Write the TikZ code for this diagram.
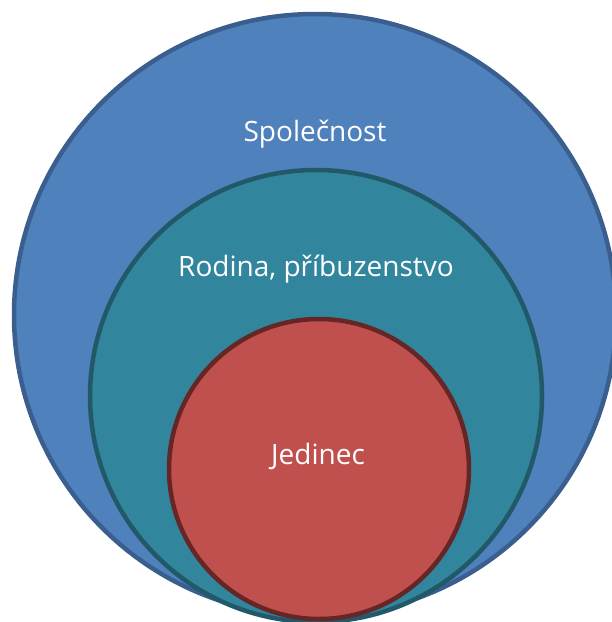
\documentclass[tikz,border=0pt]{standalone}
\usepackage{fontspec}
\setmainfont{Open Sans}
\definecolor{societyfill}{HTML}{4F81BD}
\definecolor{societyline}{HTML}{3A5F8E}
\definecolor{familyfill}{HTML}{31859C}
\definecolor{familyline}{HTML}{215968}
\definecolor{personfill}{HTML}{C0504D}
\definecolor{personline}{HTML}{652625}
\tikzset{
  ring/.style={circle, inner sep=0pt, line width=4.5pt},
  label/.style={text=white, anchor=base, inner sep=0pt, font=\fontsize{28}{32}\selectfont}
}
\begin{document}
\begin{tikzpicture}[x=1pt, y=-1pt]
  \useasboundingbox (0,0) rectangle (612,622);
  % nested circles, all touching near the bottom edge
  \node[ring, fill=societyfill, draw=societyline, minimum size=602pt] (society) at (315,315) {};
  \node[ring, fill=familyfill, draw=familyline, minimum size=452pt] (family) at (316,396) {};
  \node[ring, fill=personfill, draw=personline, minimum size=300pt] (person) at (319,469) {};
  % captions
  \node[label] (t1) at (315,141) {Společnost};
  \node[label] (t2) at (316,276) {Rodina, příbuzenstvo};
  \node[label] (t3) at (318,464) {Jedinec};
\end{tikzpicture}
\end{document}
